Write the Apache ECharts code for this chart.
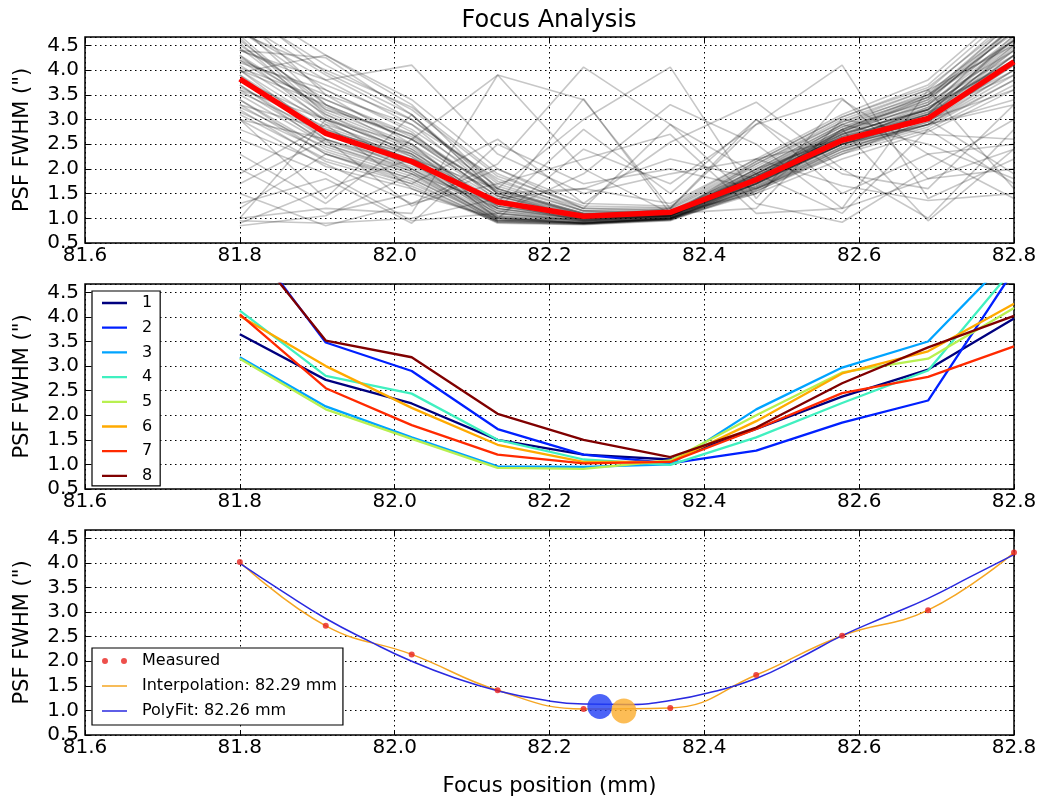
<!DOCTYPE html>
<html>
<head>
<meta charset="utf-8">
<title>Focus Analysis</title>
<script src="https://cdn.jsdelivr.net/npm/echarts@6/dist/echarts.min.js"></script>
<style>
  html, body { margin: 0; padding: 0; background: #fff; }
  #chart { width: 1045px; height: 801px; }
</style>
</head>
<body>
<div id="chart"></div>
<script>
// focuser positions (mm), same for every panel
const focusPos = [81.8, 81.911, 82.022, 82.133, 82.244, 82.356, 82.467, 82.578, 82.689, 82.8];
const xTicks = [81.6, 81.8, 82.0, 82.2, 82.4, 82.6, 82.8];
const yTicks = [0.5, 1.0, 1.5, 2.0, 2.5, 3.0, 3.5, 4.0, 4.5];

// panel 1: FWHM of every star vs focus (grey) and the median (red)
const starCurves = [
  [4.6, 3.3, 2.6, 1.6, 1.1, 1.05, 1.9, 2.7, 3.2, 4.5],
  [3.1, 2.2, 1.7, 0.95, 0.9, 1.0, 1.6, 2.4, 2.9, 3.9],
  [3.3, 2.3, 1.8, 0.95, 0.92, 1.0, 1.7, 2.5, 3.0, 4.1],
  [3.5, 2.5, 1.95, 1.05, 0.95, 1.02, 1.75, 2.55, 3.1, 4.3],
  [3.7, 2.6, 2.05, 1.15, 0.98, 1.05, 1.8, 2.6, 3.15, 4.4],
  [3.9, 2.8, 2.2, 1.25, 1.0, 1.08, 1.85, 2.7, 3.2, 4.6],
  [4.1, 3.0, 2.35, 1.35, 1.02, 1.1, 1.9, 2.75, 3.3, 4.7],
  [4.3, 3.2, 2.5, 1.45, 1.05, 1.12, 1.95, 2.8, 3.4, 4.8],
  [4.5, 3.4, 2.65, 1.55, 1.1, 1.15, 2.0, 2.9, 3.45, 4.9],
  [4.8, 3.6, 2.8, 1.65, 1.15, 1.18, 2.05, 2.95, 3.5, 5.0],
  [5.0, 3.9, 3.0, 1.75, 1.2, 1.2, 2.1, 3.0, 3.6, 5.1],
  [5.2, 4.1, 3.2, 1.85, 1.25, 1.22, 2.15, 3.05, 3.7, 5.2],
  [5.4, 4.3, 3.4, 2.0, 1.3, 1.25, 2.2, 3.1, 3.8, 5.3],
  [3.0, 2.05, 1.6, 0.92, 0.88, 0.98, 1.55, 2.3, 2.8, 3.7],
  [3.2, 2.15, 1.65, 0.93, 0.9, 0.99, 1.6, 2.35, 2.85, 3.8],
  [3.4, 2.4, 1.85, 1.0, 0.93, 1.0, 1.65, 2.45, 2.95, 4.0],
  [3.6, 2.55, 2.0, 1.1, 0.96, 1.03, 1.72, 2.5, 3.0, 4.2],
  [3.8, 2.7, 2.1, 1.2, 0.99, 1.05, 1.78, 2.6, 3.05, 4.3],
  [4.0, 2.9, 2.3, 1.3, 1.01, 1.07, 1.82, 2.65, 3.1, 4.45],
  [4.2, 3.1, 2.4, 1.4, 1.03, 1.1, 1.88, 2.72, 3.2, 4.55],
  [4.4, 4.25, 3.1, 1.5, 1.08, 1.12, 1.92, 2.78, 3.3, 4.6],
  [3.95, 4.3, 3.3, 1.6, 1.1, 1.14, 1.98, 2.85, 3.35, 4.4],
  [4.7, 3.2, 2.7, 1.5, 1.05, 1.1, 2.0, 2.6, 3.0, 3.6],
  [3.0, 2.6, 2.1, 1.1, 0.95, 1.05, 1.7, 2.8, 3.5, 4.6],
  [3.6, 3.0, 2.5, 1.2, 0.98, 1.06, 1.75, 2.5, 2.9, 3.4],
  [4.2, 3.5, 2.9, 1.8, 1.15, 1.1, 1.85, 2.65, 3.3, 4.3],
  [3.3, 2.8, 2.2, 1.3, 0.95, 1.02, 1.8, 2.6, 3.1, 4.0],
  [4.0, 3.3, 2.6, 1.45, 1.02, 1.08, 1.7, 2.55, 3.25, 4.2],
  [4.4, 3.7, 3.0, 1.7, 1.15, 1.1, 1.9, 2.75, 3.4, 4.8],
  [3.8, 3.0, 2.35, 1.25, 1.0, 1.05, 2.1, 2.95, 3.6, 4.5],
  [4.65, 3.1, 2.3, 1.0, 0.9, 0.97, 1.65, 2.5, 3.05, 4.4],
  [4.9, 3.3, 2.4, 1.05, 0.92, 0.98, 1.7, 2.55, 3.1, 4.7],
  [5.1, 3.5, 2.5, 1.1, 0.93, 1.0, 1.75, 2.62, 3.2, 4.9],
  [4.0, 2.7, 2.0, 0.95, 0.89, 0.97, 1.62, 2.45, 3.0, 4.3],
  [3.7, 2.5, 1.9, 0.92, 0.88, 0.96, 1.58, 2.4, 2.95, 4.1],
  [3.4, 2.3, 1.75, 0.9, 0.87, 0.95, 1.55, 2.35, 2.9, 4.0],
  [4.3, 2.95, 2.15, 1.0, 0.9, 0.98, 1.68, 2.52, 3.05, 4.5],
  [4.55, 3.05, 2.25, 1.02, 0.91, 1.0, 1.72, 2.58, 3.12, 4.65],
  [3.9, 2.6, 1.95, 0.97, 0.9, 0.99, 1.7, 2.5, 3.0, 4.2],
  [4.8, 3.8, 2.9, 1.5, 1.0, 1.05, 1.8, 2.7, 3.35, 4.9],
  [5.3, 3.95, 3.1, 1.6, 1.05, 1.08, 1.85, 2.75, 3.45, 5.0],
  [4.15, 3.6, 2.75, 1.35, 0.98, 1.04, 1.95, 2.85, 3.5, 4.75],
  [3.55, 2.75, 2.3, 1.2, 0.96, 1.02, 1.9, 2.8, 3.45, 4.6],
  [4.45, 3.15, 2.45, 1.25, 0.97, 1.03, 2.0, 2.9, 3.55, 4.85],
  [3.25, 2.45, 1.9, 1.02, 0.9, 0.98, 1.5, 2.2, 2.75, 3.6],
  [4.75, 4.0, 3.25, 1.9, 1.2, 1.15, 1.75, 2.5, 2.9, 3.8],
  [3.15, 2.35, 1.8, 0.98, 0.9, 1.0, 1.62, 2.42, 2.9, 3.3],
  [4.25, 3.25, 2.6, 1.45, 1.0, 1.06, 2.15, 3.05, 3.65, 5.0],
  [3.65, 2.85, 2.25, 1.15, 0.94, 1.01, 1.78, 2.68, 3.25, 4.15],
  [4.05, 3.4, 2.7, 1.55, 1.08, 1.1, 1.85, 2.65, 3.15, 3.9],
  [1.0, 1.2, 1.1, 3.9, 3.4, 1.2, 2.9, 4.1, 1.4, 2.2],
  [1.5, 0.85, 1.3, 2.1, 4.06, 2.9, 1.9, 1.1, 2.8, 1.7],
  [0.9, 1.6, 2.2, 1.6, 3.0, 4.06, 1.4, 3.4, 2.3, 2.5],
  [2.6, 1.9, 0.95, 1.1, 1.9, 3.3, 2.5, 1.2, 3.6, 1.6],
  [1.2, 2.3, 1.7, 2.6, 1.3, 2.54, 3.35, 2.0, 1.0, 2.8],
  [2.0, 1.1, 1.5, 1.0, 2.4, 1.7, 2.9, 3.43, 1.8, 2.0],
  [0.85, 1.05, 1.9, 1.3, 3.42, 1.1, 1.5, 2.8, 0.95, 2.4],
  [1.7, 2.6, 1.25, 2.0, 1.2, 2.9, 1.3, 0.92, 2.0, 3.0],
  [3.0, 1.4, 3.1, 1.5, 1.6, 1.3, 2.2, 1.66, 1.36, 1.5],
  [1.3, 1.8, 0.9, 2.5, 1.7, 2.0, 1.6, 2.3, 3.0, 1.9],
  [2.3, 1.3, 2.6, 3.9, 2.0, 1.1, 1.2, 3.0, 2.7, 2.6],
  [1.0, 3.0, 2.0, 1.2, 2.8, 1.5, 3.0, 1.9, 1.6, 3.3],
  [4.4, 3.8, 4.1, 2.3, 1.5, 1.9, 2.2, 2.6, 3.2, 4.2],
  [0.95, 0.9, 1.0, 1.4, 1.6, 2.2, 1.8, 2.9, 2.5, 1.8],
  [1.9, 2.9, 1.6, 0.95, 1.0, 1.2, 3.0, 1.5, 2.3, 1.4],
  [2.8, 2.1, 1.3, 1.7, 2.2, 2.7, 1.1, 1.2, 1.8, 2.4]
];
const medianFwhm = [3.82, 2.72, 2.15, 1.33, 1.04, 1.12, 1.78, 2.58, 3.02, 4.17];

// panel 2: median FWHM per image zone
const zoneNames = ['1', '2', '3', '4', '5', '6', '7', '8'];
const zoneCurves = [
  [3.65, 2.72, 2.24, 1.5, 1.2, 1.1, 1.72, 2.38, 2.93, 3.97],
  [5.8, 3.48, 2.9, 1.72, 1.2, 1.02, 1.28, 1.85, 2.3, 4.95],
  [3.18, 2.18, 1.55, 0.96, 0.95, 1.0, 2.12, 2.97, 3.5, 5.3],
  [4.13, 2.8, 2.44, 1.5, 1.1, 0.99, 1.55, 2.25, 2.91, 5.0],
  [3.15, 2.12, 1.52, 0.93, 0.91, 1.08, 2.0, 2.87, 3.15, 4.18],
  [4.02, 3.0, 2.15, 1.4, 1.05, 1.05, 1.88, 2.85, 3.3, 4.27],
  [4.05, 2.55, 1.8, 1.2, 1.02, 1.05, 1.72, 2.45, 2.78, 3.4],
  [5.7, 3.52, 3.18, 2.03, 1.5, 1.15, 1.75, 2.65, 3.38, 4.02]
];
const zoneColors = ['#00007f', '#0020ff', '#00a4ff', '#40f0c0', '#b8f050', '#ffaa00', '#ff2a00', '#800000'];

// panel 3: measured points, polynomial fit and the two best-focus estimates
const measured = [4.02, 2.72, 2.14, 1.41, 1.03, 1.05, 1.72, 2.52, 3.04, 4.21];
const polyX = [81.8, 81.856, 81.911, 81.967, 82.022, 82.078, 82.133, 82.189, 82.244, 82.3,
               82.356, 82.411, 82.467, 82.522, 82.578, 82.633, 82.689, 82.744, 82.8];
const polyY = [3.99, 3.41, 2.87, 2.41, 2.0, 1.66, 1.40, 1.22, 1.13, 1.12,
               1.2, 1.38, 1.65, 2.06, 2.52, 2.9, 3.28, 3.72, 4.17];
const bestInterp = [82.296, 0.99];
const bestPoly = [82.265, 1.08];

const font = 'DejaVu Sans';
const yLabel = 'PSF FWHM (")';
const grids = [
  { left: 85, top: 37, width: 929, height: 206 },
  { left: 85, top: 284, width: 929, height: 205 },
  { left: 85, top: 530, width: 929, height: 205 }
].map(g => Object.assign(g, { show: true, borderColor: '#000', borderWidth: 1.5, outerBoundsMode: 'none' }));

const dotted = { color: '#000', type: [1.5, 3.5], width: 1 };
const tick = { inside: true, length: 5, lineStyle: { color: '#000', width: 1 } };

const xAxes = [], yAxes = [];
grids.forEach((g, i) => {
  xAxes.push({
    type: 'value', gridIndex: i, min: xTicks[0], max: xTicks[xTicks.length - 1], interval: 0.2,
    name: i === 2 ? 'Focus position (mm)' : '', nameLocation: 'middle', nameGap: 41,
    nameTextStyle: { fontFamily: font, fontSize: 21, color: '#000' },
    axisLine: { show: false }, axisTick: tick,
    axisLabel: { margin: 3, fontFamily: font, fontSize: 20, color: '#000', formatter: v => v.toFixed(1) },
    splitLine: { show: true, lineStyle: dotted }
  });
  yAxes.push({
    type: 'value', gridIndex: i, min: yTicks[0], max: 4.67, interval: 0.5,
    name: yLabel, nameLocation: 'middle', nameGap: 52,
    nameTextStyle: { fontFamily: font, fontSize: 21, color: '#000' },
    axisLine: { show: false }, axisTick: tick,
    axisLabel: { margin: 6, fontFamily: font, fontSize: 20, color: '#000', showMaxLabel: false,
                 formatter: v => v.toFixed(1) },
    splitLine: { show: true, lineStyle: dotted }
  });
});
// mirrored ticks on top and right, matplotlib style
grids.forEach((g, i) => {
  xAxes.push({ type: 'value', gridIndex: i, position: 'top', min: xTicks[0], max: xTicks[xTicks.length - 1],
    interval: 0.2, axisLine: { show: false }, axisTick: tick, axisLabel: { show: false }, splitLine: { show: false } });
  yAxes.push({ type: 'value', gridIndex: i, position: 'right', min: yTicks[0], max: 4.67,
    interval: 0.5, axisLine: { show: false }, axisTick: tick, axisLabel: { show: false }, splitLine: { show: false } });
});

const pts = vals => focusPos.map((x, i) => [x, vals[i]]);
const series = [];

starCurves.forEach((c, k) => {
  series.push({
    name: 'star' + k, type: 'line', xAxisIndex: 0, yAxisIndex: 0, data: pts(c),
    symbol: 'none', silent: true, lineStyle: { color: 'rgba(0,0,0,0.22)', width: 1.6 }
  });
});
series.push({
  name: 'median', type: 'line', xAxisIndex: 0, yAxisIndex: 0, data: pts(medianFwhm),
  symbol: 'none', z: 5, lineStyle: { color: '#ff0000', width: 5.5 }
});

zoneCurves.forEach((c, k) => {
  series.push({
    name: zoneNames[k], type: 'line', xAxisIndex: 1, yAxisIndex: 1, data: pts(c),
    symbol: 'none', color: zoneColors[k], lineStyle: { color: zoneColors[k], width: 2.3 }
  });
});

series.push({
  name: 'Interpolation: 82.29 mm', type: 'line', xAxisIndex: 2, yAxisIndex: 2, data: pts(measured),
  smooth: 0.45, symbol: 'none', color: '#f5a623', lineStyle: { color: '#f5a623', width: 1.5 }
});
series.push({
  name: 'PolyFit: 82.26 mm', type: 'line', xAxisIndex: 2, yAxisIndex: 2,
  data: polyX.map((x, i) => [x, polyY[i]]),
  smooth: 0.5, symbol: 'none', color: '#2a2ae0', lineStyle: { color: '#2a2ae0', width: 1.5 }
});
series.push({
  name: 'Measured', type: 'scatter', xAxisIndex: 2, yAxisIndex: 2, data: pts(measured),
  symbolSize: 6, z: 4, itemStyle: { color: '#e8231e' }
});
series.push({
  name: 'bestPoly', type: 'scatter', xAxisIndex: 2, yAxisIndex: 2, data: [bestPoly],
  symbolSize: 25, z: 5, itemStyle: { color: '#1f3df5' }
});
series.push({
  name: 'bestInterp', type: 'scatter', xAxisIndex: 2, yAxisIndex: 2, data: [bestInterp],
  symbolSize: 25, z: 6, itemStyle: { color: '#fbad2c' }
});

// legend handles: a line of thickness t inside a 25x6 box (tiny corner marks fix the box)
const lineIcon = t => 'path://M0,0L0.01,0L0,0.01Z' +
  'M0,' + (3 - t / 2) + 'L25,' + (3 - t / 2) + 'L25,' + (3 + t / 2) + 'L0,' + (3 + t / 2) + 'Z' +
  'M25,6L24.99,6L25,5.99Z';
const dotsIcon = 'path://M0,3a3,3 0 1,0 6,0a3,3 0 1,0 -6,0ZM19,3a3,3 0 1,0 6,0a3,3 0 1,0 -6,0Z';

const legendBase = {
  orient: 'vertical', backgroundColor: '#fff', borderColor: '#000', borderWidth: 1.2,
  itemWidth: 25, itemHeight: 6, selectedMode: false,
  textStyle: { fontFamily: font, fontSize: 16, color: '#000', lineHeight: 16, padding: [0, 0, 0, 10] }
};

const chart = echarts.init(document.getElementById('chart'), null, { renderer: 'canvas' });
chart.setOption({
  animation: false,
  backgroundColor: '#fff',
  title: {
    text: 'Focus Analysis', left: 549, top: 9, padding: 0, textAlign: 'center',
    textStyle: { fontFamily: font, fontSize: 24, fontWeight: 'normal', color: '#000' }
  },
  grid: grids,
  xAxis: xAxes,
  yAxis: yAxes,
  legend: [
    Object.assign({}, legendBase, {
      left: 92, top: 291, padding: [4, 8, 2, 10], itemGap: 8.7,
      data: zoneNames.map(n => ({ name: n, icon: lineIcon(2.3) }))
    }),
    Object.assign({}, legendBase, {
      left: 92, top: 648, padding: [5, 6, 6, 10], itemGap: 9,
      data: [
        { name: 'Measured', icon: dotsIcon },
        { name: 'Interpolation: 82.29 mm', icon: lineIcon(1.5) },
        { name: 'PolyFit: 82.26 mm', icon: lineIcon(1.5) }
      ]
    })
  ],
  series: series
});
</script>
</body>
</html>
